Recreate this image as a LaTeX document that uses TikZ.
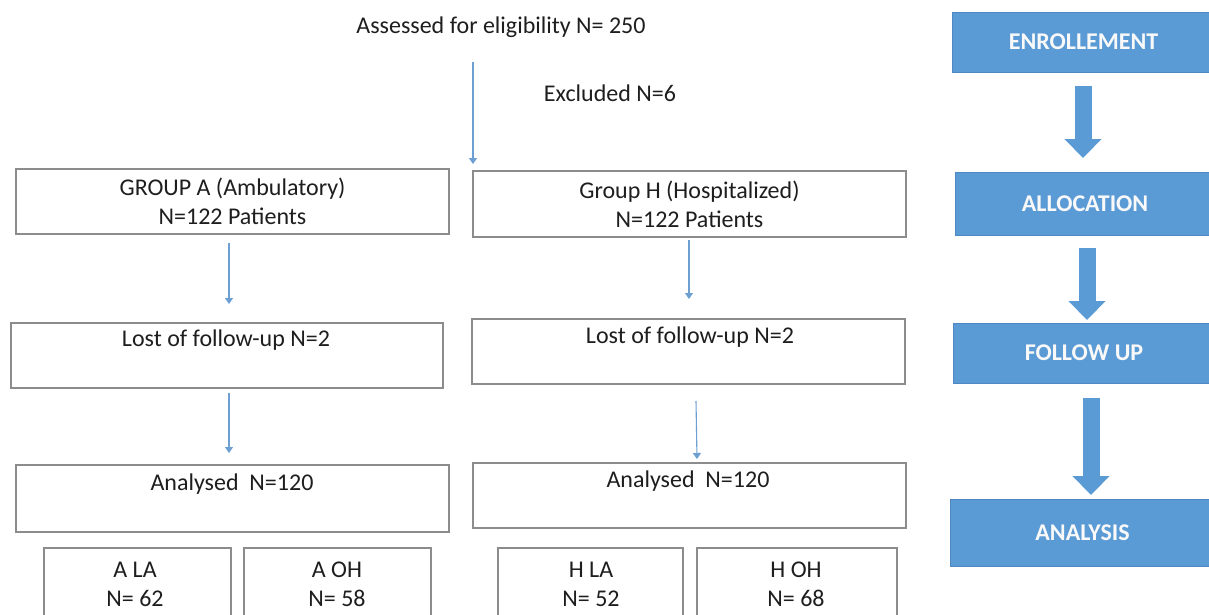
\documentclass[tikz,border=0pt]{standalone}
\usepackage{fontspec}
\setmainfont{Carlito}
\usetikzlibrary{arrows.meta}
\definecolor{offblue}{HTML}{5B9BD5}
\definecolor{offblueedge}{HTML}{4F87C0}
\definecolor{boxgray}{HTML}{8C8C8C}
\definecolor{txtgray}{HTML}{1E1E1E}
\definecolor{linkblue}{HTML}{6E9FD2}
\begin{document}
\begin{tikzpicture}[x=1pt,y=-1pt,
  wbox/.style={draw=boxgray, line width=1.2pt, fill=white, inner sep=0pt, text=txtgray, align=center, font=\fontsize{24}{29}\selectfont},
  bbox/.style={draw=offblueedge, line width=0.8pt, fill=offblue, inner sep=0pt, text=white!95!gray, font=\bfseries\fontsize{24}{29}\selectfont},
  lbl/.style={text=txtgray, inner sep=0pt, align=center, font=\fontsize{24}{29}\selectfont},
  thinarrow/.style={draw=linkblue, line width=1.1pt, -{Triangle[width=8pt,length=6pt]}},
  fatarrow/.style={draw=offblue, line width=17pt, -{Triangle[width=36pt,length=19pt]}}]
\clip (0,0) rectangle (1209,615);
\fill[white] (0,0) rectangle (1209,615);

% top texts
\node[lbl] (assessed) at (501,27) {Assessed for eligibility N= 250};
\node[lbl] (excluded) at (610,93) {Excluded N=6};

% group boxes
\node[wbox, minimum width=433pt, minimum height=65pt] (ga) at (232.5,201.5) {GROUP A (Ambulatory)\\N=122 Patients};
\node[wbox, minimum width=433pt, minimum height=66pt] (gh) at (689.5,204) {Group H (Hospitalized)\\N=122 Patients};

% lost boxes
\node[wbox, minimum width=432pt, minimum height=65pt] (la) at (227,355.5) {};
\node[lbl] (latxt) at (226,340) {Lost of follow-up N=2};
\node[wbox, minimum width=433pt, minimum height=65pt] (lh) at (688.5,351.5) {};
\node[lbl] (lhtxt) at (690,337) {Lost of follow-up N=2};

% analysed boxes
\node[wbox, minimum width=433pt, minimum height=67pt] (aa) at (232.5,498.5) {};
\node[lbl] (aatxt) at (232,484) {Analysed\ \ N=120};
\node[wbox, minimum width=433pt, minimum height=65pt] (ah) at (689.5,495.5) {};
\node[lbl] (ahtxt) at (688,481) {Analysed\ \ N=120};

% sub-group boxes (cut by the lower edge)
\node[wbox, minimum width=187pt, minimum height=102pt] (ala) at (137.5,599) {};
\node[wbox, minimum width=187pt, minimum height=102pt] (aoh) at (337.5,599) {};
\node[wbox, minimum width=185pt, minimum height=102pt] (hla) at (590.5,599) {};
\node[wbox, minimum width=200pt, minimum height=102pt] (hoh) at (797,599) {};
\node[lbl] (alatxt) at (135,584) {A LA\\N= 62};
\node[lbl] (aohtxt) at (337,584) {A OH\\N= 58};
\node[lbl] (hlatxt) at (591,584) {H LA\\N= 52};
\node[lbl] (hohtxt) at (796,584) {H OH\\N= 68};

% thin arrows
\coordinate (t0s) at (473,62);  \coordinate (t0e) at (473,164);
\coordinate (t1s) at (229,243); \coordinate (t1e) at (229,304);
\coordinate (t2s) at (689,240); \coordinate (t2e) at (689,299);
\coordinate (t3s) at (229,393); \coordinate (t3e) at (229,453);
\coordinate (t4s) at (696,401); \coordinate (t4e) at (697,459);
\draw[thinarrow] (t0s) -- (t0e);
\draw[thinarrow] (t1s) -- (t1e);
\draw[thinarrow] (t2s) -- (t2e);
\draw[thinarrow] (t3s) -- (t3e);
\draw[thinarrow] (t4s) -- (t4e);

% stage boxes
\node[bbox, minimum width=263pt, minimum height=60pt] (en) at (1083.5,42) {ENROLLEMENT};
\node[bbox, minimum width=260pt, minimum height=63pt] (al) at (1085,203.5) {ALLOCATION};
\node[bbox, minimum width=262pt, minimum height=60pt] (fu) at (1084,353) {FOLLOW UP};
\node[bbox, minimum width=265pt, minimum height=67pt] (an) at (1082.5,532.5) {ANALYSIS};

% fat arrows
\coordinate (f1s) at (1083,86);  \coordinate (f1e) at (1083,158);
\coordinate (f2s) at (1087,248); \coordinate (f2e) at (1087,320);
\coordinate (f3s) at (1091,398); \coordinate (f3e) at (1091,495);
\draw[fatarrow] (f1s) -- (f1e);
\draw[fatarrow] (f2s) -- (f2e);
\draw[fatarrow] (f3s) -- (f3e);
\end{tikzpicture}
\end{document}
